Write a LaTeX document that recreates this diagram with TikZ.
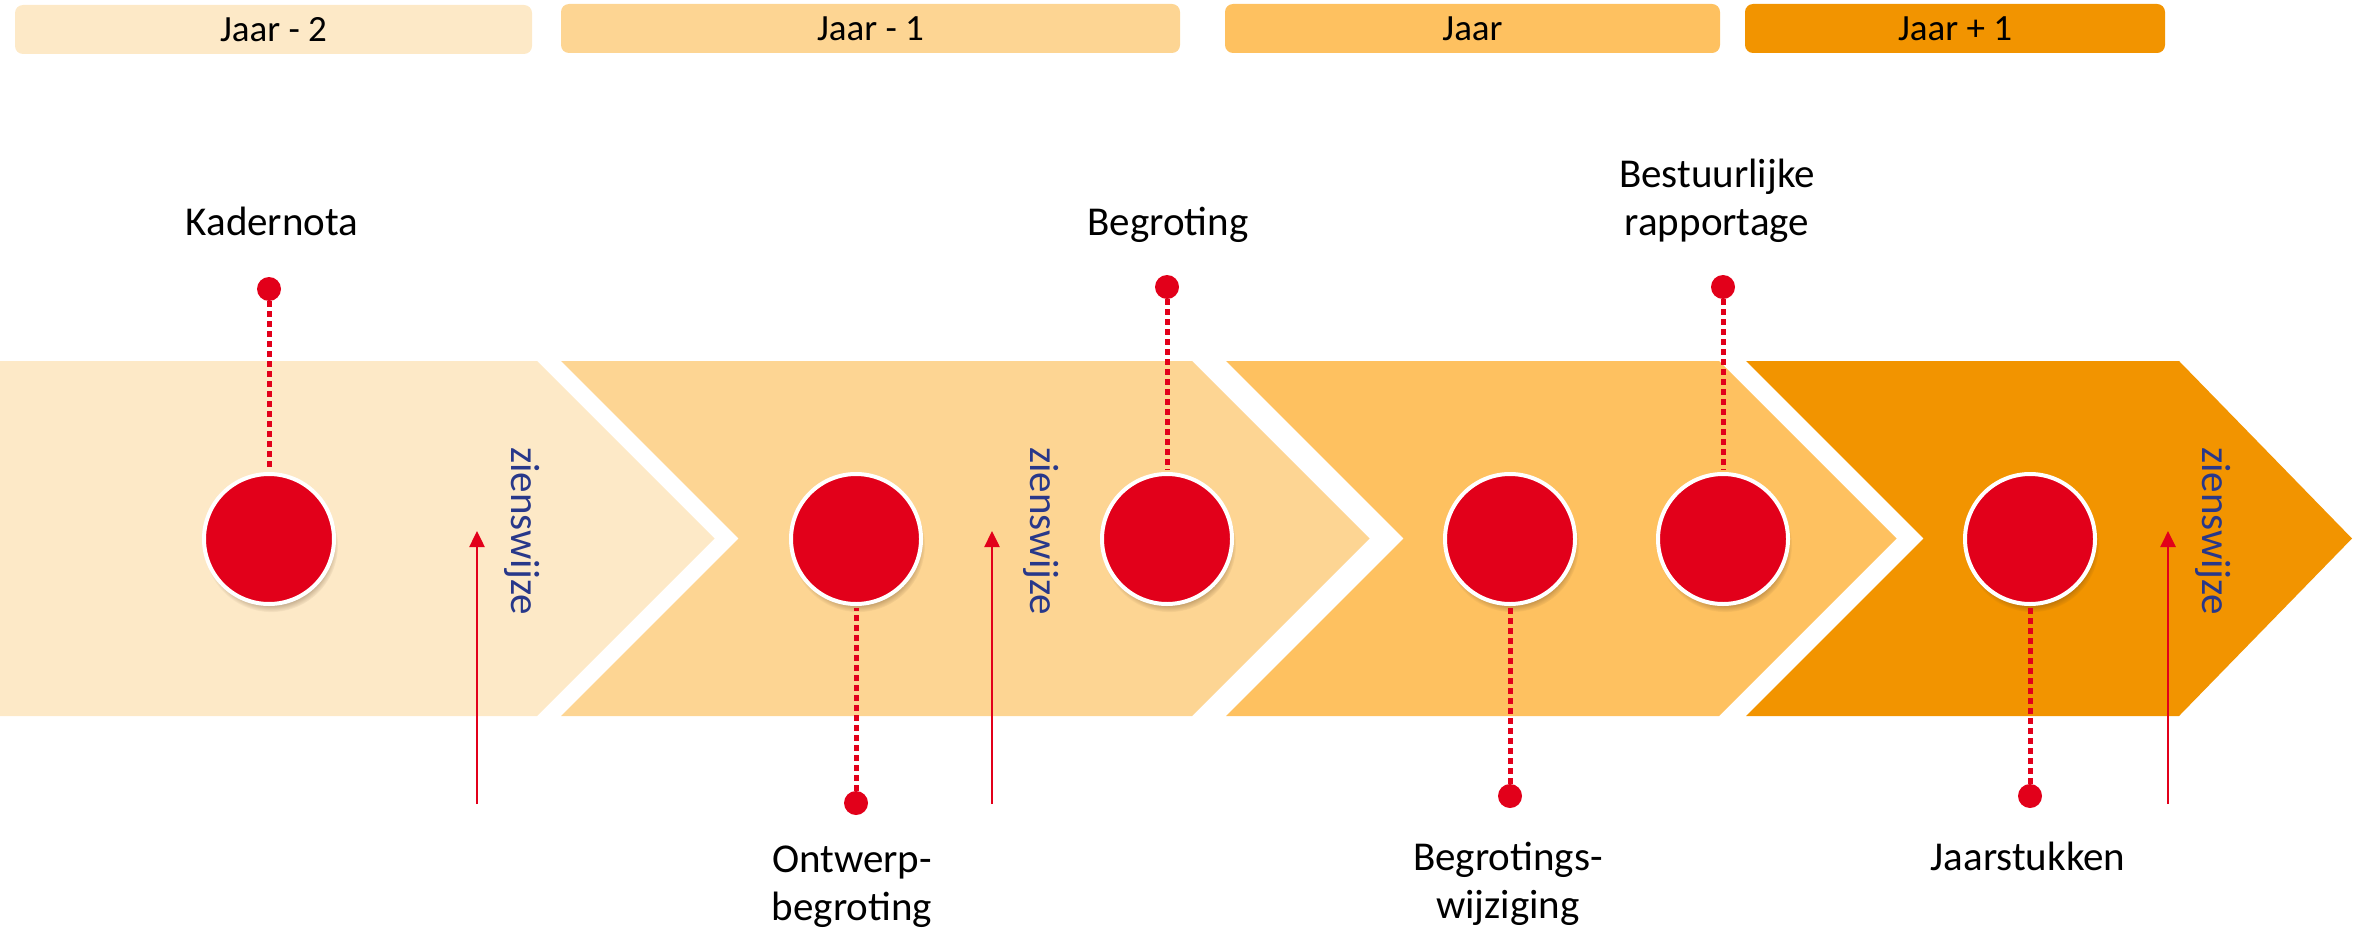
\documentclass[tikz,border=0pt]{standalone}
\usepackage{fontspec}
\setmainfont{Carlito}
\usetikzlibrary{arrows.meta,shadows}
\definecolor{chA}{RGB}{253,233,199}
\definecolor{chB}{RGB}{253,213,147}
\definecolor{chC}{RGB}{254,193,96}
\definecolor{chD}{RGB}{242,148,0}
\definecolor{mred}{RGB}{226,0,26}
\definecolor{navy}{RGB}{40,56,138}
\begin{document}
\begin{tikzpicture}[x=1pt,y=-1pt,
  yearbar/.style={rounded corners=8pt, inner sep=0pt, minimum height=49pt,
    font=\fontsize{37}{44}\selectfont, text=black},
  event/.style={circle, fill=mred, draw=white, line width=4pt, minimum size=130pt, inner sep=0pt,
    circular drop shadow={shadow scale=1.03, shadow xshift=2pt, shadow yshift=-6pt, opacity=.45, fill=black!55!brown}},
  pin/.style={circle, fill=mred, minimum size=24pt, inner sep=0pt},
  pinline/.style={draw=mred, line width=5pt, dash pattern=on 6pt off 4pt, shorten >=2pt},
  evlabel/.style={anchor=base, align=center, inner sep=0pt, font=\fontsize{41}{48}\selectfont, text=black},
  zw/.style={anchor=base, rotate=-90, inner sep=0pt, font=\fontsize{41}{48}\selectfont, text=navy},
  zarrow/.style={draw=mred, line width=2.5pt, -{Triangle[width=15pt,length=16pt]}}]
\useasboundingbox (0,0) rectangle (2357,931);
% year bars
\node[yearbar, fill=chA, minimum width=517pt] (b1) at (273.5,29.5) {Jaar - 2};
\node[yearbar, fill=chB, minimum width=619pt] (b2) at (870.5,28.5) {Jaar - 1};
\node[yearbar, fill=chC, minimum width=495pt] (b3) at (1472.5,28.5) {Jaar};
\node[yearbar, fill=chD, minimum width=420pt] (b4) at (1955,28.5) {Jaar + 1};
% chevrons
\fill[chA] (0,361) -- (537,361) -- (714.5,538.5) -- (537,716) -- (0,716) -- cycle;
\fill[chB] (561,361) -- (1192,361) -- (1369.5,538.5) -- (1192,716) -- (561,716) -- (738.5,538.5) -- cycle;
\fill[chC] (1226,361) -- (1719,361) -- (1896.5,538.5) -- (1719,716) -- (1226,716) -- (1403.5,538.5) -- cycle;
\fill[chD] (1746,361) -- (2179,361) -- (2352,538.5) -- (2179,716) -- (1746,716) -- (1923.5,538.5) -- cycle;
% zienswijze
\node[zw] (z1) at (511,531) {zienswijze};
\node[zw] (z2) at (1030,531) {zienswijze};
\node[zw] (z3) at (2202,531) {zienswijze};
\coordinate (a1s) at (477,804); \coordinate (a1e) at (477,531);
\coordinate (a2s) at (992,804); \coordinate (a2e) at (992,531);
\coordinate (a3s) at (2168,804); \coordinate (a3e) at (2168,531);
\draw[zarrow] (a1s) -- (a1e);
\draw[zarrow] (a2s) -- (a2e);
\draw[zarrow] (a3s) -- (a3e);
% events
\node[event] (c1) at (269,539) {};
\node[event] (c2) at (856,539) {};
\node[event] (c3) at (1167,539) {};
\node[event] (c4) at (1510,539) {};
\node[event] (c5) at (1723,539) {};
\node[event] (c6) at (2030,539) {};
\node[pin] (d1) at (269,289) {};
\node[pin] (d2) at (856,803) {};
\node[pin] (d3) at (1167,287) {};
\node[pin] (d4) at (1510,796) {};
\node[pin] (d5) at (1723,287) {};
\node[pin] (d6) at (2030,796) {};
\foreach \i in {1,...,6} {\draw[pinline] (d\i) -- (c\i);}
% labels
\node[evlabel] (l1) at (272,235) {Kadernota};
\node[evlabel] (l2) at (852,920) {Ontwerp-\\begroting};
\node[evlabel] (l3) at (1168,235) {Begroting};
\node[evlabel] (l4) at (1508,918) {Begrotings-\\wijziging};
\node[evlabel] (l5) at (1717,235) {Bestuurlijke\\rapportage};
\node[evlabel] (l6) at (2028,870) {Jaarstukken};
\end{tikzpicture}
\end{document}
